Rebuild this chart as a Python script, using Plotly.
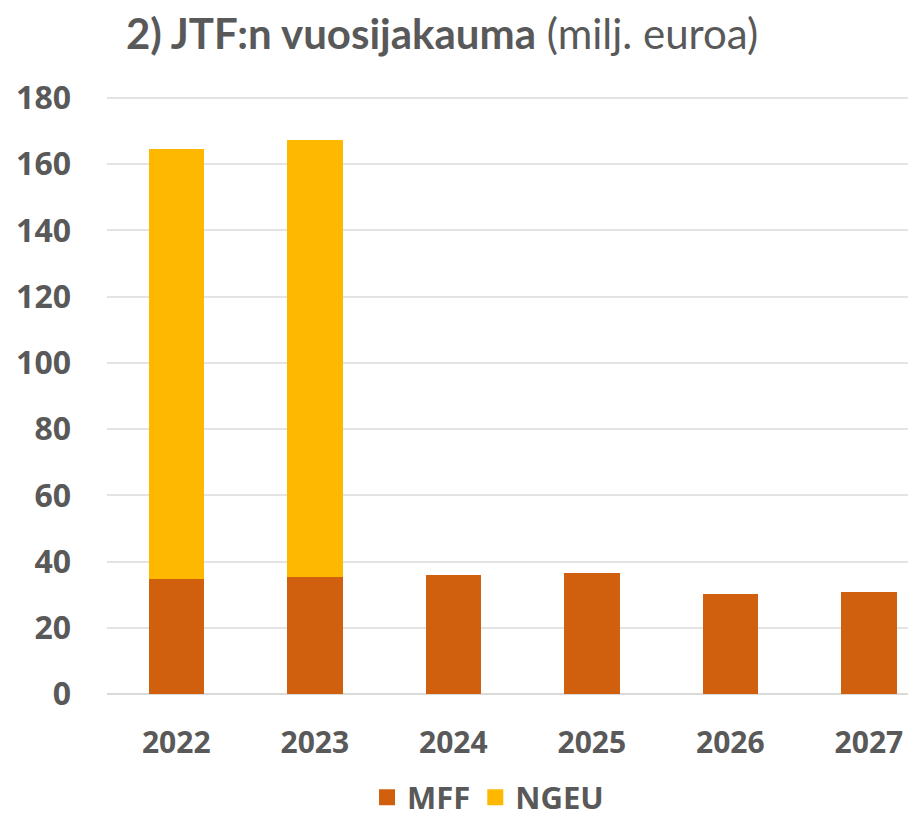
import plotly.graph_objects as go

years = ["2022", "2023", "2024", "2025", "2026", "2027"]
mff = [34.6, 35.4, 36.0, 36.5, 30.3, 30.8]
ngeu = [130.0, 131.8, 0, 0, 0, 0]
y_ticks = [0, 20, 40, 60, 80, 100, 120, 140, 160, 180]

C_MFF = "#D0600E"
C_NGEU = "#FFB800"
TXT = "#595959"

fig = go.Figure()
fig.add_trace(go.Bar(x=years, y=mff, name="MFF", showlegend=False,
                     marker=dict(color=C_MFF, line=dict(width=0))))
fig.add_trace(go.Bar(x=years, y=ngeu, name="NGEU", showlegend=False,
                     marker=dict(color=C_NGEU, line=dict(width=0))))
# legend entries with larger square swatches
fig.add_trace(go.Scatter(x=[None], y=[None], mode="markers", name="MFF",
                         marker=dict(symbol="square", size=20, color=C_MFF)))
fig.add_trace(go.Scatter(x=[None], y=[None], mode="markers", name="NGEU",
                         marker=dict(symbol="square", size=20, color=C_NGEU)))

fig.update_layout(
    width=908, height=809,
    barmode="stack", bargap=0.6,
    plot_bgcolor="white", paper_bgcolor="white",
    margin=dict(l=99, r=0, t=88, b=123, autoexpand=False),
    title=dict(
        text="<b>2) JTF:n vuosijakauma</b> (milj. euroa)",
        x=0.478, xanchor="center", y=0.967, yanchor="middle",
        font=dict(family="Lato, Open Sans, sans-serif", size=42, color=TXT),
    ),
    font=dict(family="Open Sans, sans-serif", color=TXT),
    legend=dict(
        orientation="h", x=0.471, xanchor="center",
        yref="container", y=0.024, yanchor="middle",
        font=dict(family="Open Sans, sans-serif", size=31, color=TXT, weight="bold"),
        itemwidth=30, traceorder="normal", borderwidth=0,
    ),
    showlegend=True,
)
fig.update_xaxes(
    type="category", range=[-0.5, 5.34], automargin=False,
    tickfont=dict(family="Open Sans, sans-serif", size=30, color=TXT, weight="bold"),
    showgrid=False, showline=False, ticks="", ticklabelstandoff=28,
)
fig.update_yaxes(
    range=[0, 180.6], tickvals=y_ticks, automargin=False,
    tickfont=dict(family="Open Sans, sans-serif", size=32, color=TXT, weight="bold"),
    showgrid=True, gridcolor="#E3E3E3", gridwidth=2,
    zeroline=True, zerolinecolor="#DADADA", zerolinewidth=2,
    showline=False, ticks="", ticklabelstandoff=35,
)

fig.write_html("out.html")
